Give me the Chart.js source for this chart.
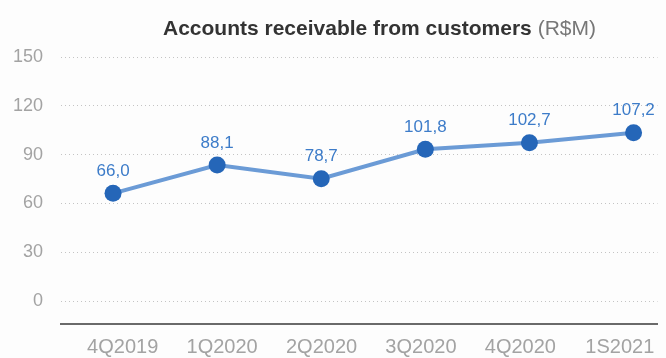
<!DOCTYPE html>
<html>
<head>
<meta charset="utf-8">
<script src="https://cdn.jsdelivr.net/npm/chart.js@4/dist/chart.umd.min.js"></script>
<style>
  html, body { margin: 0; padding: 0; background: #fdfdfd; }
  #wrap { position: relative; width: 666px; height: 358px; }
  #title {
    position: absolute; left: 163px; top: 15px;
    font-family: "Liberation Sans", Arial, sans-serif;
    font-size: 21px; line-height: 25px; color: #333; white-space: nowrap;
  }
  #title b { font-weight: bold; }
  #title span { color: #777; }
</style>
</head>
<body>
<div id="wrap">
  <canvas id="chart" width="666" height="358"></canvas>
  <div id="title"><b>Accounts receivable from customers</b> <span>(R$M)</span></div>
</div>
<script>
const categories = ['4Q2019', '1Q2020', '2Q2020', '3Q2020', '4Q2020', '1S2021'];
// plotted heights
const values = [66.2, 83.6, 75.2, 93.3, 97.3, 103.5];
// printed labels
const valueLabels = ['66,0', '88,1', '78,7', '101,8', '102,7', '107,2'];
const yTicks = [0, 30, 60, 90, 120, 150];

const pointLabels = {
  id: 'pointLabels',
  afterDatasetsDraw(chart) {
    const ctx = chart.ctx;
    const meta = chart.getDatasetMeta(0);
    ctx.save();
    ctx.font = '17px "Liberation Sans", Arial, sans-serif';
    ctx.fillStyle = '#3d7cc9';
    ctx.textAlign = 'center';
    ctx.textBaseline = 'middle';
    meta.data.forEach((pt, i) => {
      ctx.fillText(valueLabels[i], pt.x, pt.y - 22);
    });
    ctx.restore();
  }
};

const ctx = document.getElementById('chart').getContext('2d');
new Chart(ctx, {
  type: 'line',
  data: {
    datasets: [{
      data: values.map((v, i) => ({ x: i, y: v })),
      borderColor: '#6b9bd6',
      borderWidth: 4,
      backgroundColor: '#2566b8',
      pointBackgroundColor: '#2566b8',
      pointBorderColor: '#2566b8',
      pointRadius: 8.5,
      pointBorderWidth: 0,
      tension: 0
    }]
  },
  options: {
    responsive: false,
    animation: false,
    layout: { padding: { top: 57, left: 0, right: 0, bottom: 0 } },
    plugins: {
      legend: { display: false },
      tooltip: { enabled: false },
      title: { display: false }
    },
    scales: {
      x: {
        type: 'linear',
        display: false,
        min: -0.5,
        max: 5.23
      },
      x2: {
        type: 'category',
        position: 'bottom',
        labels: categories,
        offset: true,
        grid: { display: false, drawTicks: false },
        border: { display: true, color: '#6a6a6a', width: 2 },
        ticks: {
          color: '#a3a3a3',
          font: { family: '"Liberation Sans", Arial, sans-serif', size: 20 },
          padding: 11,
          labelOffset: 12,
          maxRotation: 0,
          autoSkip: false
        },
        afterFit(scale) { scale.height = 34; }
      },
      y: {
        min: -14.1,
        max: 150,
        afterBuildTicks(scale) { scale.ticks = yTicks.map(v => ({ value: v })); },
        grid: { color: '#c4c4c4', lineWidth: 1, drawTicks: false },
        border: { display: false, dash: [1, 3] },
        ticks: {
          color: '#a3a3a3',
          font: { family: '"Liberation Sans", Arial, sans-serif', size: 18 },
          padding: 18
        },
        afterFit(scale) { scale.width = 61; }
      }
    }
  },
  plugins: [pointLabels]
});
</script>
</body>
</html>
